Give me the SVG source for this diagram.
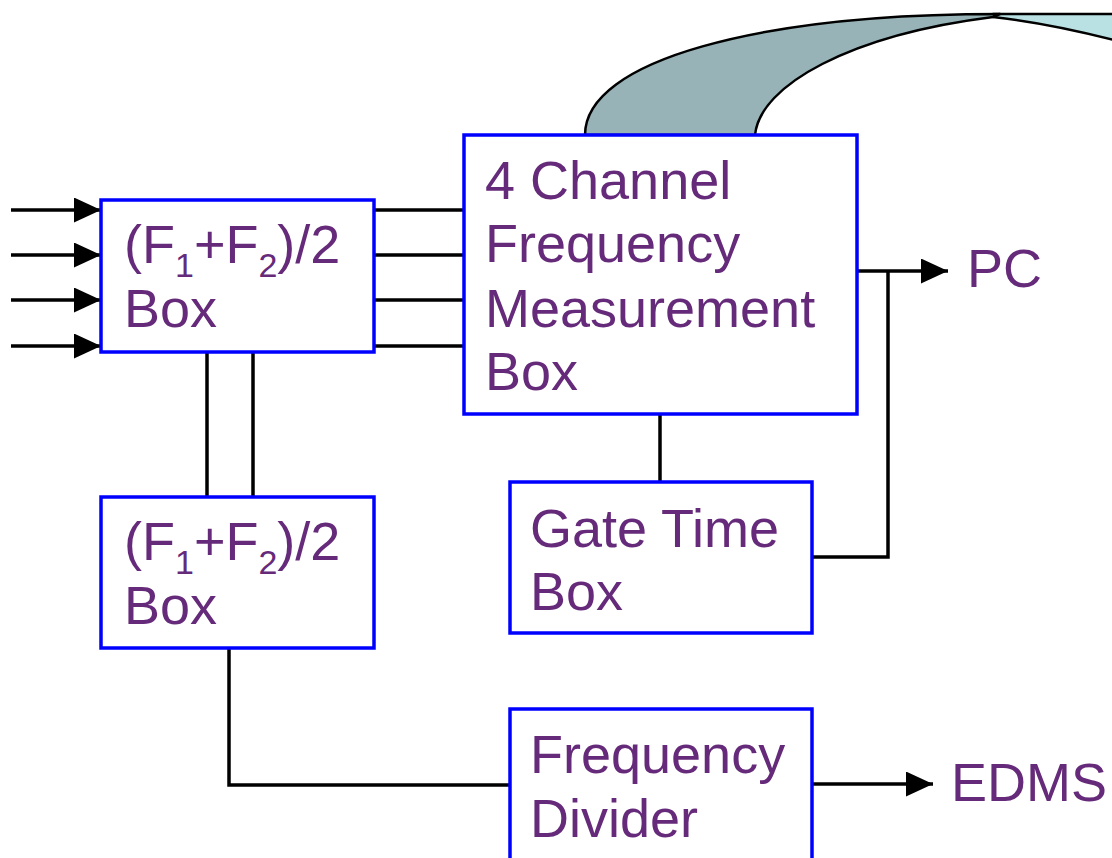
<svg xmlns="http://www.w3.org/2000/svg" width="1112" height="858" viewBox="0 0 1112 858">
  <defs>
    <marker id="arrow" markerUnits="userSpaceOnUse" markerWidth="28" markerHeight="26" refX="27" refY="12.5" orient="auto">
      <path d="M0,0 L27,12.5 L0,25 Z" fill="#000"/>
    </marker>
    <style>
      .box { fill: #fff; stroke: #0000ff; stroke-width: 3.5; }
      .wire { fill: none; stroke: #000; stroke-width: 3.5; }
      .arr { fill: none; stroke: #000; stroke-width: 3.5; marker-end: url(#arrow); }
      .lbl { font-family: "Liberation Sans", Arial, sans-serif; font-size: 54px; fill: #662a7a; }
      .lbl .sub { font-size: 34px; }
      .band { stroke: #000; stroke-width: 2.5; stroke-linejoin: round; }
    </style>
  </defs>

  <!-- curved band rising from the measurement box -->
  <g id="curved-arrow">
    <path class="band" fill="#b9e0e3" d="M993,14 L1114,14 L1114,40 C1075,30 1030,21 993,17 Z"/>
    <path class="band" fill="#97b3b7" d="M585,135 C585,60 760,14 1000,14 L993,17 C850,35 760,85 755,135 Z"/>
  </g>

  <!-- connectors -->
  <g id="connectors">
    <line class="arr" x1="11" y1="210" x2="101" y2="210"/>
    <line class="arr" x1="11" y1="255" x2="101" y2="255"/>
    <line class="arr" x1="11" y1="300" x2="101" y2="300"/>
    <line class="arr" x1="11" y1="346" x2="101" y2="346"/>

    <line class="wire" x1="374" y1="210" x2="464" y2="210"/>
    <line class="wire" x1="374" y1="255" x2="464" y2="255"/>
    <line class="wire" x1="374" y1="300" x2="464" y2="300"/>
    <line class="wire" x1="374" y1="346" x2="464" y2="346"/>

    <line class="wire" x1="207" y1="352" x2="207" y2="497"/>
    <line class="wire" x1="253" y1="352" x2="253" y2="497"/>

    <line class="wire" x1="660" y1="414" x2="660" y2="482"/>

    <line class="arr" x1="857" y1="271" x2="948" y2="271"/>
    <polyline class="wire" points="812,557 888,557 888,271"/>

    <polyline class="wire" points="229,649 229,785 510,785"/>
    <line class="arr" x1="812" y1="784" x2="933" y2="784"/>
  </g>

  <g id="avg-box-top">
    <rect class="box" x="101" y="200" width="273" height="152"/>
    <text class="lbl" x="124" y="263">(F<tspan class="sub" dy="14">1</tspan><tspan dy="-14">+F</tspan><tspan class="sub" dy="14">2</tspan><tspan dy="-14">)/2</tspan></text>
    <text class="lbl" x="124" y="327">Box</text>
  </g>

  <g id="avg-box-bottom">
    <rect class="box" x="101" y="497" width="273" height="151"/>
    <text class="lbl" x="124" y="560">(F<tspan class="sub" dy="14">1</tspan><tspan dy="-14">+F</tspan><tspan class="sub" dy="14">2</tspan><tspan dy="-14">)/2</tspan></text>
    <text class="lbl" x="124" y="624">Box</text>
  </g>

  <g id="measurement-box">
    <rect class="box" x="464" y="135" width="393" height="279"/>
    <text class="lbl" x="485" y="199">4 Channel</text>
    <text class="lbl" x="485" y="262">Frequency</text>
    <text class="lbl" x="485" y="327">Measurement</text>
    <text class="lbl" x="485" y="390">Box</text>
  </g>

  <g id="gate-time-box">
    <rect class="box" x="510" y="482" width="302" height="151"/>
    <text class="lbl" x="530" y="547">Gate Time</text>
    <text class="lbl" x="530" y="610">Box</text>
  </g>

  <g id="frequency-divider">
    <rect class="box" x="510" y="709" width="302" height="160"/>
    <text class="lbl" x="530" y="773">Frequency</text>
    <text class="lbl" x="530" y="837">Divider</text>
  </g>

  <g id="outputs">
    <text class="lbl" x="967" y="287">PC</text>
    <text class="lbl" x="951" y="801">EDMS</text>
  </g>
</svg>
